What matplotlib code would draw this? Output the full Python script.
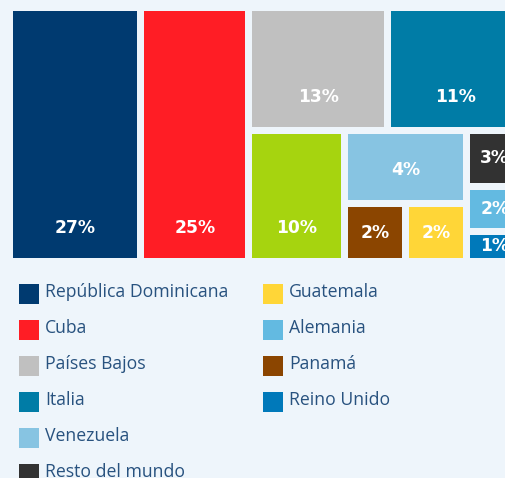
import matplotlib
matplotlib.use("Agg")
import matplotlib.pyplot as plt
from matplotlib.patches import Rectangle

# ---------------- data ----------------
categories = ["República Dominicana", "Cuba", "Países Bajos", "Italia", "",
              "Venezuela", "Panamá", "Guatemala", "Resto del mundo",
              "Alemania", "Reino Unido"]
shares = [27, 25, 13, 11, 10, 4, 2, 2, 3, 2, 1]          # % shown on the tiles
tile_weights = [25.6, 21.0, 13.1, 12.7, 9.7, 6.9, 2.7, 2.7, 2.4, 1.9, 1.3]  # tile areas as drawn
colors = ["#003a70", "#ff1d25", "#c0c0c0", "#007ca6", "#a6d40f", "#87c4e2",
          "#8b4500", "#ffd637", "#323232", "#63bae1", "#0079ba"]
legend_order = ["República Dominicana", "Cuba", "Países Bajos", "Italia",
                "Venezuela", "Resto del mundo", "Guatemala", "Alemania",
                "Panamá", "Reino Unido"]

# nesting of tiles: 'h' = side by side, 'v' = stacked
layout_tree = ("h", [0, 1, ("v", [("h", [2, 3]),
                                  ("h", [4, ("v", [5, ("h", [6, 7])]),
                                         ("v", [8, 9, 10])])])])

BG = "#eef5fb"
TEXT = "#28527f"


def weight(node):
    if isinstance(node, int):
        return tile_weights[node]
    return sum(weight(c) for c in node[1])


def layout(node, x, y, w, h, out):
    if isinstance(node, int):
        out[node] = (x, y, w, h)
        return
    d, children = node
    tot = weight(node)
    pos = 0.0
    for c in children:
        f = weight(c) / tot
        if d == "h":
            layout(c, x + pos, y, w * f, h, out)
            pos += w * f
        else:
            layout(c, x, y + pos, w, h * f, out)
            pos += h * f


W, H = 506, 478
fig = plt.figure(figsize=(W / 100, H / 100), dpi=100, facecolor=BG)
ax = fig.add_axes([0, 0, 1, 1])
ax.set_xlim(0, W)
ax.set_ylim(H, 0)
ax.axis("off")
ax.set_facecolor(BG)

rects = {}
layout(layout_tree, 9.5, 7.5, 513, 254, rects)
gap = 7
for i, (x, y, w, h) in rects.items():
    rx, ry, rw, rh = x + gap / 2, y + gap / 2, w - gap, h - gap
    ax.add_patch(Rectangle((rx, ry), rw, rh, facecolor=colors[i],
                           edgecolor="none"))
    ly = ry + rh - min(30, rh / 2)
    ax.text(rx + rw / 2, ly, f"{shares[i]}%", color="white",
            fontsize=12.3, fontweight="bold", family=["DejaVu Sans"],
            ha="center", va="center")

# legend
for k, name in enumerate(legend_order):
    col, row = divmod(k, 6)
    i = categories.index(name)
    sx = 19 + col * 244
    sy = 284 + row * 36
    ax.add_patch(Rectangle((sx, sy), 20, 20, facecolor=colors[i],
                           edgecolor="none"))
    ax.text(sx + 26, sy + 13.3, name, color=TEXT, fontsize=12.7,
            family=["Open Sans", "DejaVu Sans"], ha="left", va="baseline")

fig.savefig("out.png", dpi=100, facecolor=BG)
